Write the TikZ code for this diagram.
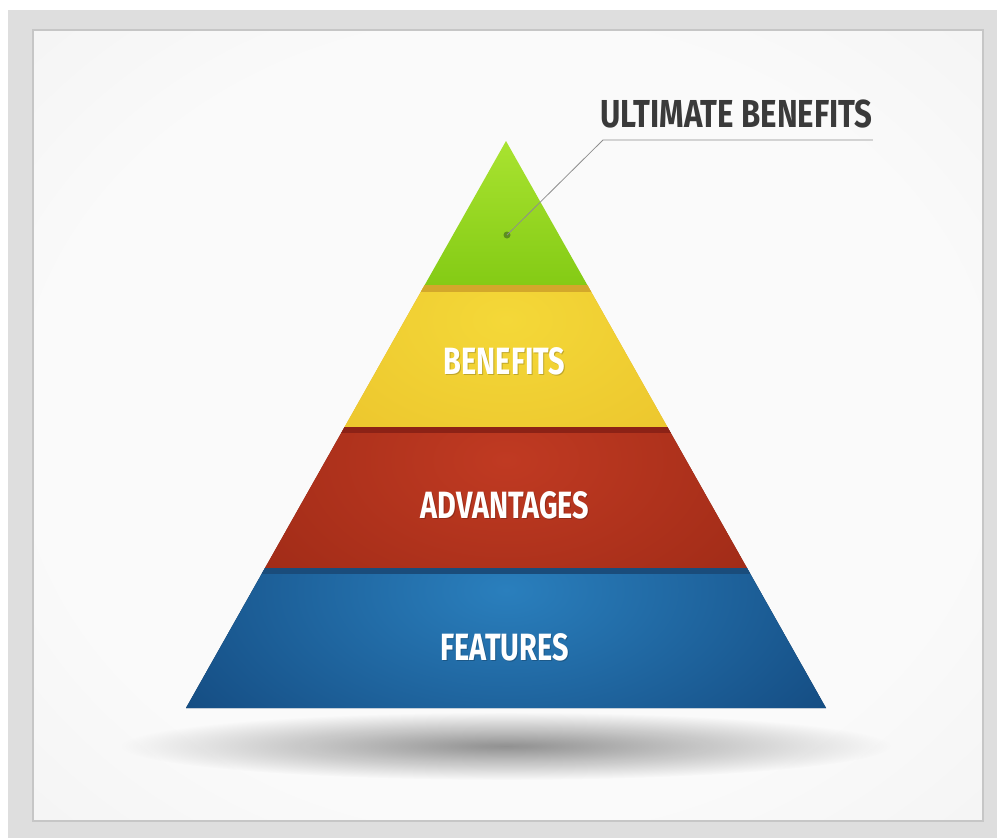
\documentclass[tikz,border=0pt]{standalone}
\usepackage{fontspec}
\newfontfamily\labfont{Fira Sans}[FakeStretch=0.76]
\newfontfamily\titfont{Fira Sans}[FakeStretch=0.80]
\usetikzlibrary{fadings}
\definecolor{outerbg}{HTML}{DEDEDE}
\definecolor{panelborder}{HTML}{C6C6C6}
\definecolor{panellight}{HTML}{FAFAFA}
\definecolor{paneldark}{HTML}{E2E2E2}
\definecolor{grnlight}{HTML}{A9E330}
\definecolor{grndark}{HTML}{84CB15}
\definecolor{ochre}{HTML}{D3A82B}
\definecolor{ylwlight}{HTML}{F4D838}
\definecolor{ylwdark}{HTML}{E3B121}
\definecolor{redband}{HTML}{8C2216}
\definecolor{redlight}{HTML}{C03A22}
\definecolor{reddark}{HTML}{88200F}
\definecolor{bluband}{HTML}{1A4C7B}
\definecolor{blulight}{HTML}{2A7FBD}
\definecolor{blumid}{HTML}{175289}
\definecolor{bludark}{HTML}{062A50}
\definecolor{leadgray}{HTML}{8E8E8E}
\definecolor{titlegray}{HTML}{3A3A3A}
\definecolor{dotgreen}{HTML}{5C8E1E}
\pgfdeclareradialshading{panelshade}{\pgfpoint{0bp}{0bp}}{color(0bp)=(panellight); color(25bp)=(panellight); color(72bp)=(paneldark)}
\pgfdeclareradialshading{ylwshade}{\pgfpoint{0bp}{0bp}}{color(0bp)=(ylwlight); color(50bp)=(ylwdark)}
\pgfdeclareradialshading{redshade}{\pgfpoint{0bp}{0bp}}{color(0bp)=(redlight); color(40bp)=(reddark); color(50bp)=(reddark)}
\pgfdeclareradialshading{blushade}{\pgfpoint{0bp}{0bp}}{color(0bp)=(blulight); color(20bp)=(blumid); color(40bp)=(bludark); color(50bp)=(bludark)}
\tikzfading[name=shadowfade, inner color=transparent!58, outer color=transparent!100]
\tikzset{
  layerlabel/.style={text=white, font=\labfont\bfseries\fontsize{38}{40}\selectfont, inner sep=0pt, anchor=base},
  labelshadow/.style={text=black, text opacity=0.2, font=\labfont\bfseries\fontsize{38}{40}\selectfont, inner sep=0pt, anchor=base},
  titlelabel/.style={text=titlegray, font=\titfont\bfseries\fontsize{39}{41}\selectfont, inner sep=0pt, anchor=base west},
  leader/.style={draw=leadgray, line width=0.8pt},
}
\begin{document}
\begin{tikzpicture}[x=1pt, y=-1pt]
\useasboundingbox (0,0) rectangle (997,838);
% backgrounds
\fill[white] (0,0) rectangle (997,838);
\fill[outerbg] (8,10) rectangle (997,838);
\shade[shading=panelshade] (33,30) rectangle (983,821);
\draw[panelborder, line width=1.5pt] (33,30) rectangle (983,821);
% floor shadow
\fill[black, path fading=shadowfade] (506,746) ellipse (385 and 34);
% green tip
\shade[top color=grnlight, bottom color=grndark] (506,141) -- (587.3,285) -- (424.7,285) -- cycle;
% yellow layer
\begin{scope}
  \clip (424.7,285) -- (587.3,285) -- (667.4,427) -- (344.6,427) -- cycle;
  \fill[ylwdark] (300,280) rectangle (700,430);
  \shade[shading=ylwshade] (506,320) ellipse (260 and 170);
  \fill[ochre] (400,284) rectangle (620,292);
\end{scope}
% red layer
\begin{scope}
  \clip (344.6,427) -- (667.4,427) -- (747,568) -- (265,568) -- cycle;
  \fill[reddark] (250,420) rectangle (760,570);
  \shade[shading=redshade] (506,460) ellipse (340 and 210);
  \fill[redband] (330,426) rectangle (690,433);
\end{scope}
% blue layer
\begin{scope}
  \clip (265,568) -- (747,568) -- (826,708) -- (186,708) -- cycle;
  \fill[bludark] (180,560) rectangle (830,710);
  \shade[shading=blushade] (506,590) ellipse (430 and 240);
  \fill[bluband] (250,567) rectangle (770,574);
\end{scope}
% layer labels
\node[labelshadow] (benshadow) at (505.5,375.5) {BENEFITS};
\node[layerlabel] (benefits) at (504.5,374) {BENEFITS};
\node[labelshadow] (advshadow) at (506,519.5) {ADVANTAGES};
\node[layerlabel] (advantages) at (505,518) {ADVANTAGES};
\node[labelshadow] (feashadow) at (505.5,661.5) {FEATURES};
\node[layerlabel] (features) at (504.5,660) {FEATURES};
% ultimate benefits label and leader
\node[titlelabel] (ultimate) at (600,127) {ULTIMATE BENEFITS};
\coordinate (knee) at (603,140);
\node[circle, fill=dotgreen, inner sep=0pt, minimum size=7pt] (dot) at (507,235) {};
\draw[leader] (dot.center) -- (knee) -- (knee -| ultimate.east);
\end{tikzpicture}
\end{document}
